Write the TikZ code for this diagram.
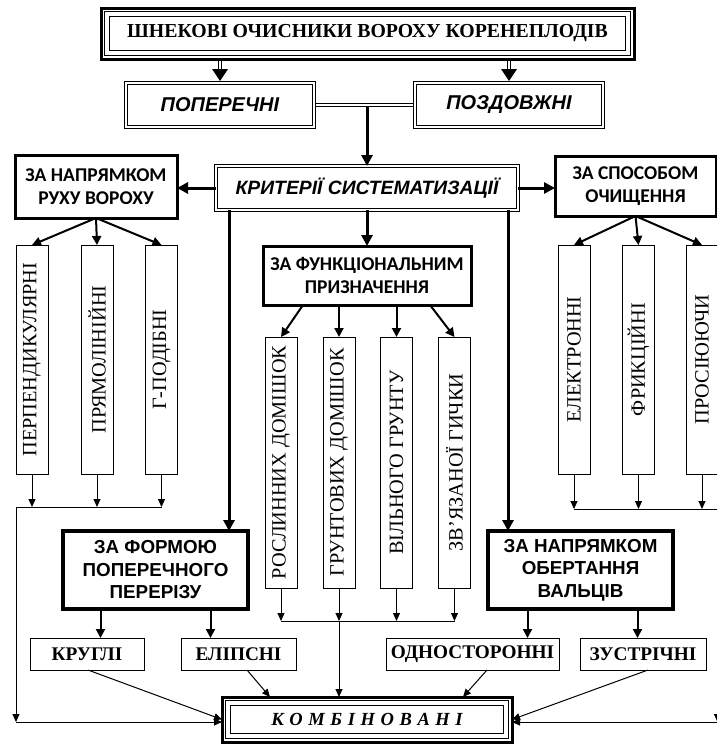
\documentclass[tikz,border=0pt]{standalone}
\usepackage{graphicx}
\usepackage{fontspec}
\setmainfont{Liberation Serif}
\setsansfont{Liberation Sans}
\newfontfamily\carl{Carlito}
\usetikzlibrary{arrows.meta,calc}
\begin{document}
\begin{tikzpicture}[x=1pt,y=-1pt,
  base/.style={inner sep=0pt, outer sep=0pt, align=center},
  thinbox/.style={base, draw, line width=1pt},
  dblbox/.style={base, draw, double, double distance=2.4pt, line width=0.8pt},
  thickbox/.style={base, draw, line width=3pt},
  heavybox/.style={base, draw, line width=4pt},
  tribox/.style={base, draw, line width=3pt, path picture={
     \draw[line width=1pt] ([shift={(3.5pt,-3.5pt)}]path picture bounding box.north west) rectangle ([shift={(-3.5pt,3.5pt)}]path picture bounding box.south east);
     \draw[line width=1pt] ([shift={(8.5pt,-8.5pt)}]path picture bounding box.north west) rectangle ([shift={(-8.5pt,8.5pt)}]path picture bounding box.south east);}},
  vbox/.style={thinbox, minimum width=32pt, font={\fontsize{20.3}{22}\selectfont}},
  sbox/.style={thinbox, minimum height=32pt, font={\bfseries\fontsize{19.3}{22}\selectfont}},
  fitalic/.style={font={\sffamily\bfseries\itshape\fontsize{20}{22}\selectfont}},
  fcarl/.style={font={\carl\bfseries\fontsize{19.5}{23}\selectfont}},
  fsans/.style={font={\sffamily\bfseries\fontsize{18.8}{22.5}\selectfont}},
  thk/.style={line width=3pt, -{Triangle[length=11pt,width=11pt]}},
  med/.style={line width=2pt, -{Triangle[length=9pt,width=9pt]}},
  thn/.style={line width=1pt, -{Triangle[length=8pt,width=7pt]}},
  dbl/.style={line width=0.8pt, double, double distance=2.4pt},
]
\useasboundingbox (0,0) rectangle (717,744);

% top
\node[tribox, minimum width=533pt, minimum height=51pt, font={\bfseries\fontsize{19.8}{22}\selectfont}] (title) at (367.5,33.5) {ШНЕКОВІ ОЧИСНИКИ ВОРОХУ КОРЕНЕПЛОДІВ};
\node[dblbox, fitalic, minimum width=188pt, minimum height=44pt] (pop) at (220,105) {ПОПЕРЕЧНІ};
\node[dblbox, fitalic, minimum width=188pt, minimum height=44pt] (pozd) at (509,105) {ПОЗДОВЖНІ};
\node[dblbox, font={\sffamily\bfseries\itshape\fontsize{19.3}{22}\selectfont}, minimum width=302pt, minimum height=44pt] (krit) at (367,188) {КРИТЕРІЇ СИСТЕМАТИЗАЦІЇ};

% category boxes
\node[thickbox, fcarl, minimum width=162pt, minimum height=63pt] (ruh) at (96,186.5) {ЗА НАПРЯМКОМ\\РУХУ ВОРОХУ};
\node[thickbox, fcarl, minimum width=161pt, minimum height=60pt] (spos) at (635.5,186) {ЗА СПОСОБОМ\\ОЧИЩЕННЯ};
\node[thickbox, fcarl, minimum width=208pt, minimum height=59pt] (func) at (367,275.5) {ЗА ФУНКЦІОНАЛЬНИМ\\ПРИЗНАЧЕННЯ};

% vertical boxes
\node[vbox, minimum height=229pt] (v1) at (32,359.5) {\rotatebox{90}{ПЕРПЕНДИКУЛЯРНІ}};
\node[vbox, minimum height=229pt] (v2) at (97,359.5) {\rotatebox{90}{ПРЯМОЛІНІЙНІ}};
\node[vbox, minimum height=229pt] (v3) at (161.5,359.5) {\rotatebox{90}{Г-ПОДІБНІ}};

\node[vbox, minimum height=251pt] (m1) at (281,462.5) {\rotatebox{90}{РОСЛИННИХ ДОМІШОК}};
\node[vbox, minimum height=251pt] (m2) at (339,462.5) {\rotatebox{90}{ГРУНТОВИХ ДОМІШОК}};
\node[vbox, minimum height=251pt] (m3) at (396.5,462.5) {\rotatebox{90}{ВІЛЬНОГО ГРУНТУ}};
\node[vbox, minimum height=251pt] (m4) at (454.5,462.5) {\rotatebox{90}{ЗВ’ЯЗАНОЇ ГИЧКИ}};

\node[vbox, minimum height=229pt] (r1) at (574,359.5) {\rotatebox{90}{ЕЛЕКТРОННІ}};
\node[vbox, minimum height=229pt] (r2) at (638.5,359.5) {\rotatebox{90}{ФРИКЦІЙНІ}};
\node[vbox, minimum height=229pt] (r3) at (702,359.5) {\rotatebox{90}{ПРОСІЮЮЧИ}};

% lower category boxes
\node[heavybox, fsans, minimum width=185pt, minimum height=78pt] (forma) at (155.5,570) {ЗА ФОРМОЮ\\ПОПЕРЕЧНОГО\\ПЕРЕРІЗУ};
\node[heavybox, fsans, minimum width=185pt, minimum height=78pt] (obert) at (580.5,570) {ЗА НАПРЯМКОМ\\ОБЕРТАННЯ\\ВАЛЬЦІВ};

% small boxes
\node[sbox, minimum width=114pt] (krug) at (87,654) {КРУГЛІ};
\node[sbox, minimum width=115pt] (elip) at (238.5,654) {ЕЛІПСНІ};
\node[sbox, minimum width=173pt] (odno) at (472.5,654) {ОДНОСТОРОННІ};
\node[sbox, minimum width=126pt] (zust) at (643,654) {ЗУСТРІЧНІ};

% bottom
\node[tribox, minimum width=290pt, minimum height=45pt, font={\bfseries\itshape\fontsize{18.5}{22}\selectfont}] (komb) at (367,719.5) {{\spaceskip=5.6pt К О М Б І Н О В А Н І}};

% collector coordinates
\coordinate (lcoll) at (16,507);
\coordinate (lcorner) at (16,722);
\coordinate (rcoll) at (717.5,509);
\coordinate (rcorner) at (717.5,722);
\coordinate (mcoll) at (282,621);

% title arrows
\draw[dbl] ([yshift=-1.5pt]title.south -| pop.north) -- ([yshift=12pt]pop.north);
\fill ([shift={(-8pt,14pt)}]pop.north) -- ([shift={(8pt,14pt)}]pop.north) -- ([yshift=2pt]pop.north) -- cycle;
\draw[dbl] ([yshift=-1.5pt]title.south -| pozd.north) -- ([yshift=12pt]pozd.north);
\fill ([shift={(-8pt,14pt)}]pozd.north) -- ([shift={(8pt,14pt)}]pozd.north) -- ([yshift=2pt]pozd.north) -- cycle;

\draw[dbl] ([xshift=2pt]pop.east) -- ([xshift=-2pt]pozd.west);
\draw[thk] ($(krit.north |- pop.east)+(0,2)$) -- (krit.north);

% from criteria
\draw[thk] (krit.west) -- (krit.west -| ruh.east);
\draw[thk] (krit.east) -- (krit.east -| spos.west);
\draw[thk] (krit.south) -- (func.north);
\coordinate (kl) at ([xshift=13pt]krit.south west);
\coordinate (kr) at ([xshift=-10pt]krit.south east);
\draw[thk] (kl) -- (kl |- forma.north);
\draw[thk] (kr) -- (kr |- obert.north);

% to vertical boxes
\draw[med] (ruh.south) -- (v1.north);
\draw[med] (ruh.south) -- (v2.north);
\draw[med] (ruh.south) -- (v3.north);
\draw[med] (spos.south) -- (r1.north);
\draw[med] (spos.south) -- (r2.north);
\draw[med] (spos.south) -- (r3.north);
\draw[med] ([xshift=-64pt]func.south) -- (m1.north);
\draw[med] (m2.north |- func.south) -- (m2.north);
\draw[med] (m3.north |- func.south) -- (m3.north);
\draw[med] ([xshift=63pt]func.south) -- (m4.north);

% collectors
\foreach \v in {v1,v2,v3} \draw[thn] (\v.south) -- (\v.south |- lcoll);
\draw[thn] (v3.south |- lcoll) -- (lcoll) -- (lcorner);
\draw[thn] (lcorner) -- (komb.west |- lcorner);

\foreach \v in {r1,r2,r3} \draw[thn] (\v.south) -- (\v.south |- rcoll);
\draw[thn] (r1.south |- rcoll) -- (rcoll) -- (rcorner);
\draw[thn] (rcorner) -- (komb.east |- rcorner);

\foreach \v in {m1,m2,m3,m4} \draw[thn] (\v.south) -- (\v.south |- mcoll);
\draw[line width=1pt] (m1.south |- mcoll) -- (m4.south |- mcoll);
\draw[thn] (m2.south |- mcoll) -- (m2.south |- komb.north);

% lower categories to small boxes
\draw[med] ([xshift=-55pt]forma.south) -- ([xshift=-55pt]forma.south |- krug.north);
\draw[med] ([xshift=55pt]forma.south) -- ([xshift=55pt]forma.south |- elip.north);
\draw[med] ([xshift=-53pt]obert.south) -- ([xshift=-53pt]obert.south |- odno.north);
\draw[med] ([xshift=57pt]obert.south) -- ([xshift=57pt]obert.south |- zust.north);

% small boxes to combined
\draw[thn] ([xshift=1pt]krug.south) -- (komb.west);
\draw[thn] ([xshift=8.5pt]elip.south) -- ([xshift=48pt]komb.north west);
\draw[thn] ([xshift=14.5pt]odno.south) -- ([xshift=-49pt]komb.north east);
\draw[thn] ([xshift=5pt]zust.south) -- (komb.east);
\end{tikzpicture}
\end{document}
